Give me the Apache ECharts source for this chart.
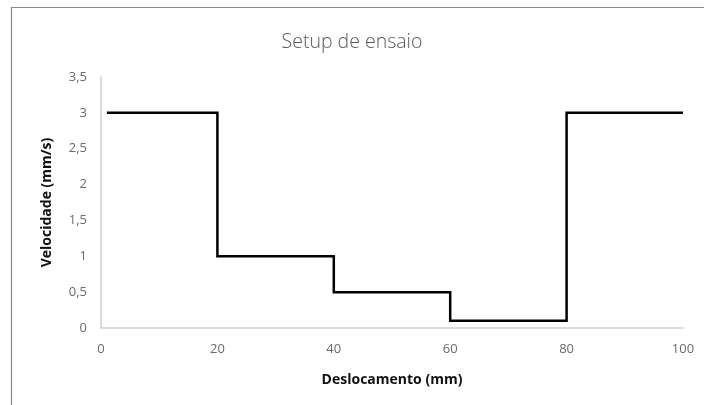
<!DOCTYPE html>
<html><head><meta charset="utf-8">
<script src="https://cdn.jsdelivr.net/npm/echarts@6/dist/echarts.min.js"></script>
<style>html,body{margin:0;padding:0;background:#fff}#c{width:704px;height:405px}</style>
</head><body><div id="c"></div>
<script>
const xValues = [1, 20, 20, 40, 40, 60, 60, 80, 80, 100];
const yValues = [3, 3, 1, 1, 0.5, 0.5, 0.1, 0.1, 3, 3];
const titleText = 'Setup de ensaio';
const xName = 'Deslocamento (mm)';
const yName = 'Velocidade (mm/s)';

const chart = echarts.init(document.getElementById('c'));
const fmt = v => String(v).replace('.', ',');
chart.setOption({
  animation: false,
  title: { text: titleText, left: 'center', top: 27,
    textStyle: { fontFamily: 'Open Sans', fontWeight: 300, fontSize: 19.5, color: '#595959' } },
  graphic: [{ type: 'rect', shape: { x: 11.5, y: 7.5, width: 900, height: 600 },
    style: { fill: 'none', stroke: '#8a8a8a', lineWidth: 1.2 }, silent: true }],
  grid: { left: 101, right: 21, top: 77, bottom: 77 },
  xAxis: { type: 'value', min: 0, max: 100, interval: 20,
    name: xName, nameLocation: 'middle', nameGap: 45,
    nameTextStyle: { fontFamily: 'Open Sans', fontWeight: 'bold', fontSize: 14, color: '#111' },
    axisLine: { show: true, lineStyle: { color: '#d0d0d0', width: 1.5 } },
    axisTick: { show: false }, splitLine: { show: false },
    axisLabel: { margin: 15, fontFamily: 'Open Sans', fontSize: 13, color: '#6a6a6a' } },
  yAxis: { type: 'value', min: 0, max: 3.5, interval: 0.5,
    name: yName, nameLocation: 'middle', nameGap: 47,
    nameTextStyle: { fontFamily: 'Open Sans', fontWeight: 'bold', fontSize: 14, color: '#111' },
    axisLine: { show: true, lineStyle: { color: '#d0d0d0', width: 1.5 } },
    axisTick: { show: false }, splitLine: { show: false },
    axisLabel: { margin: 14, fontFamily: 'Open Sans', fontSize: 13, color: '#6a6a6a', formatter: fmt } },
  series: [{ type: 'line', data: xValues.map((x, i) => [x, yValues[i]]),
    showSymbol: false, symbol: 'none',
    lineStyle: { color: '#000', width: 2.5, join: 'miter' } }]
});
</script></body></html>
